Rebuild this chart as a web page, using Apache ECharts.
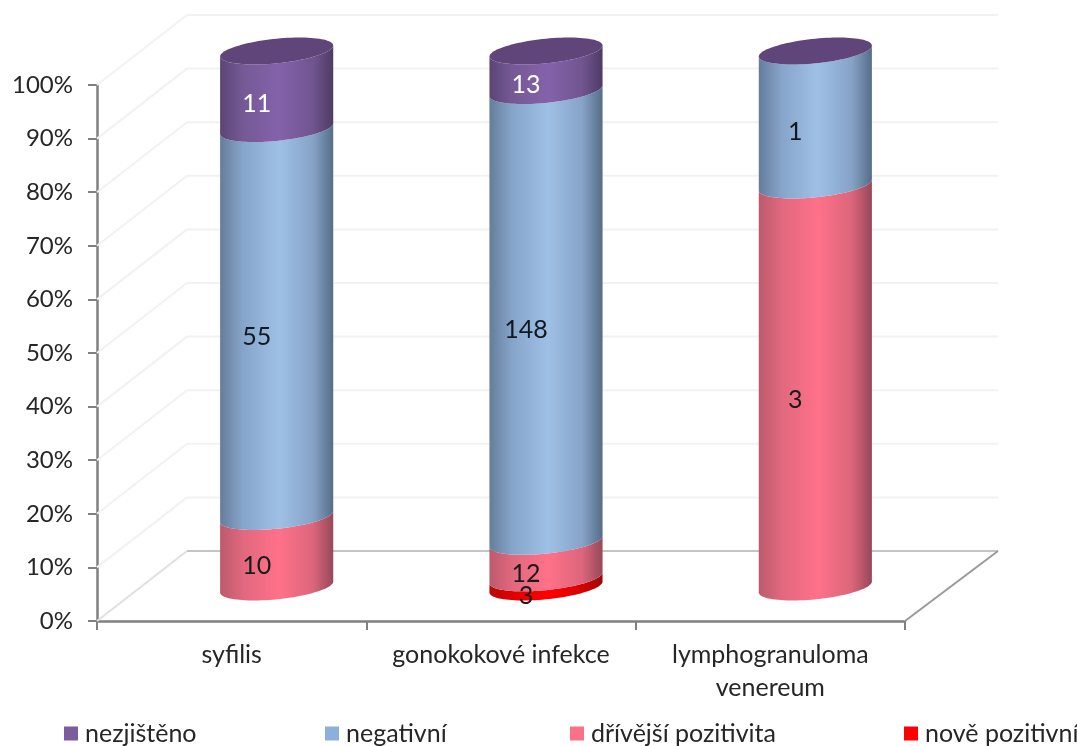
<!DOCTYPE html>
<html>
<head>
<meta charset="utf-8">
<style>html,body{margin:0;padding:0;background:#fff}#c{width:1077px;height:746px}</style>
<script src="https://cdn.jsdelivr.net/npm/echarts@6/dist/echarts.min.js"></script>
</head>
<body>
<div id="c"></div>
<script>
const categories = ['syfilis', 'gonokokové infekce', 'lymphogranuloma\nvenereum'];
const novePozitivni = [0, 3, 0];
const drivejsiPozitivita = [10, 12, 3];
const negativni = [55, 148, 1];
const nezjisteno = [11, 13, 0];
const yTicks = [0, 10, 20, 30, 40, 50, 60, 70, 80, 90, 100];
const legendNames = ['nezjištěno', 'negativní', 'dřívější pozitivita', 'nově pozitivní'];
const legendLefts = [59, 320, 565, 899];

const FONT = 'Lato';
const DX = 45, DY = -34, WALL_DX = 90, WALL_DY = -70;

// bottom-to-top stacking order
const stackOrder = [
  { name: 'nově pozitivní', values: novePozitivni, legend: '#fe0000', stops: ['#b80808', '#e00000', '#ff0000', '#d80000', '#9a0a0a'], top: '#c00000', text: '#1a1a1a' },
  { name: 'dřívější pozitivita', values: drivejsiPozitivita, legend: '#fb7187', stops: ['#bc5a6c', '#e0687e', '#ff7189', '#dc667b', '#97485a'], top: '#c05a6c', text: '#1a1a1a' },
  { name: 'negativní', values: negativni, legend: '#8eaedb', stops: ['#647d9b', '#86a4c9', '#9fc0e6', '#86a3c7', '#566d89'], top: '#6d87ab', text: '#101820' },
  { name: 'nezjištěno', values: nezjisteno, legend: '#7b5c9c', stops: ['#5b4476', '#755995', '#8462ab', '#70558f', '#4e3b65'], top: '#5f4579', text: '#ffffff' }
];
const totals = categories.map((_, i) => stackOrder.reduce((s, o) => s + o.values[i], 0));

function ellipsePoint(cx, cy, a, t) {
  const B = 12.3, S = 5.5;
  return [cx + a * Math.cos(t), cy + B * Math.sin(t) - S * Math.cos(t)];
}
function frontArc(cx, cy, a, reverse) {
  const pts = [];
  for (let i = 0; i <= 48; i++) {
    const t = Math.PI * (reverse ? 48 - i : i) / 48;
    pts.push(ellipsePoint(cx, cy, a, t));
  }
  return pts;
}
function fullEllipse(cx, cy, a) {
  const pts = [];
  for (let i = 0; i < 96; i++) pts.push(ellipsePoint(cx, cy, a, 2 * Math.PI * i / 96));
  return pts;
}

function renderSegment(spec, isTop) {
  return function (params, api) {
    const cat = api.value(0), v0 = api.value(1), v1 = api.value(2), count = api.value(3);
    const p0 = api.coord([cat, v0]), p1 = api.coord([cat, v1]);
    const a = api.size([1, 0])[0] * 0.21;
    const cx = p0[0] + DX, y0 = p0[1] + DY, y1 = p1[1] + DY;
    const children = [];
    if (count > 0) {
      const s = spec.stops;
      children.push({
        type: 'polygon',
        shape: { points: frontArc(cx, y0, a, false).concat(frontArc(cx, y1, a, true)) },
        style: {
          fill: new echarts.graphic.LinearGradient(0, 0, 1, 0, [
            { offset: 0, color: s[0] }, { offset: 0.2, color: s[1] }, { offset: 0.52, color: s[2] },
            { offset: 0.82, color: s[3] }, { offset: 1, color: s[4] }
          ])
        }
      });
    }
    if (isTop) {
      children.push({
        type: 'polygon',
        shape: { points: fullEllipse(cx, y1, a) },
        style: { fill: spec.top }
      });
    }
    if (count > 0) {
      children.push({
        type: 'text', z2: 20,
        style: {
          x: cx - 20, y: (y0 + y1) / 2 + 14, text: String(count),
          fill: spec.text, font: '25px ' + FONT, textAlign: 'center', textVerticalAlign: 'middle'
        }
      });
    }
    return { type: 'group', children };
  };
}

const running = categories.map(() => 0);
const segSeries = stackOrder.map((spec, k) => {
  const data = categories.map((_, i) => {
    const start = running[i];
    running[i] += spec.values[i];
    return [i, start / totals[i] * 100, running[i] / totals[i] * 100, spec.values[i]];
  });
  return {
    type: 'custom', name: spec.name, z: 3, clip: false,
    itemStyle: { color: spec.legend },
    encode: { x: 0, y: [1, 2] },
    data, renderItem: renderSegment(spec, k === stackOrder.length - 1)
  };
});

const wallSeries = {
  type: 'custom', name: 'wall', z: 1, silent: true, clip: false,
  encode: { y: 0 }, data: yTicks.map(v => [v]),
  renderItem(params, api) {
    const cs = params.coordSys;
    const v = api.value(0);
    const y = api.coord([0, v])[1];
    const xL = cs.x, xR = cs.x + cs.width;
    const floor = v === 0;
    const depth = { stroke: floor ? '#e0e0e0' : '#f2f2f2', lineWidth: 2 };
    const back = { stroke: floor ? '#c4c4c4' : '#f2f2f2', lineWidth: 2 };
    const kids = [
      { type: 'line', shape: { x1: xL, y1: y, x2: xL + WALL_DX, y2: y + WALL_DY }, style: depth },
      { type: 'line', shape: { x1: xL + WALL_DX, y1: y + WALL_DY, x2: xR + 93, y2: y + WALL_DY }, style: back }
    ];
    if (floor) kids.push({ type: 'line', shape: { x1: xR, y1: y, x2: xR + 93, y2: y + WALL_DY }, style: { stroke: '#9a9a9a', lineWidth: 2 } });
    return { type: 'group', children: kids };
  }
};

const chart = echarts.init(document.getElementById('c'), null, { renderer: 'canvas' });
chart.setOption({
  animation: false,
  backgroundColor: '#ffffff',
  grid: { left: 97, right: 172, top: 85, bottom: 125, containLabel: false },
  legend: legendNames.map((name, i) => ({
    data: [name],
    left: legendLefts[i], top: 716, icon: 'rect', itemWidth: 14, itemHeight: 14,
    textStyle: { fontFamily: FONT, fontSize: 25, color: '#262626', padding: [0, 0, 0, 2] }
  })),
  xAxis: {
    type: 'category', data: categories,
    axisLine: { lineStyle: { color: '#808080', width: 2.5 } },
    axisTick: { show: true, length: 9, alignWithLabel: false, lineStyle: { color: '#808080', width: 2 } },
    axisLabel: { fontFamily: FONT, fontSize: 25, color: '#262626', margin: 17, lineHeight: 33, interval: 0 },
    splitLine: { show: false }
  },
  yAxis: {
    type: 'value', min: 0, max: 100, interval: 10,
    axisLine: { show: true, lineStyle: { color: '#808080', width: 2.5 } },
    axisTick: { show: true, length: 9, lineStyle: { color: '#808080', width: 2 } },
    axisLabel: { formatter: '{value}%', fontFamily: FONT, fontSize: 24, color: '#262626', margin: 24 },
    splitLine: { show: false }
  },
  series: [wallSeries].concat(segSeries)
});
</script>
</body>
</html>
